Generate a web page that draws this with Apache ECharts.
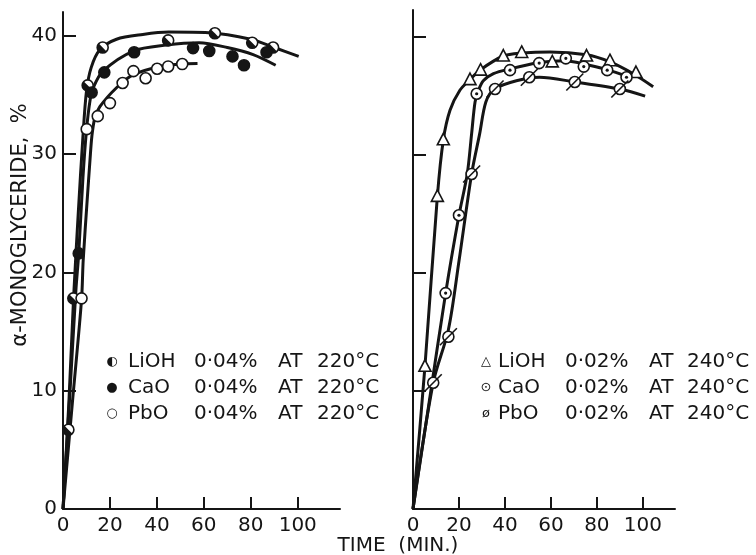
<!DOCTYPE html>
<html>
<head>
<meta charset="utf-8">
<script src="https://cdn.jsdelivr.net/npm/echarts@6/dist/echarts.min.js"></script>
<style>
  html, body { margin: 0; padding: 0; background: #fff; }
  #main { width: 756px; height: 555px; }
</style>
</head>
<body>
<div id="main"></div>
<script>
// tick labels
var xTicks = [0, 20, 40, 60, 80, 100];
var yTicks = [0, 10, 20, 30, 40];

// left panel: 0.04 % at 220 °C  (measured points)
var lioh220Pts = [[2.3, 6.7], [4.4, 17.8], [10.5, 35.8], [16.9, 39.0], [44.8, 39.6], [64.7, 40.2], [80.6, 39.4], [89.5, 39.0]];
var cao220Pts = [[6.7, 21.6], [12.2, 35.2], [17.6, 36.9], [30.3, 38.6], [55.4, 38.95], [62.3, 38.7], [72.2, 38.25], [77.1, 37.5], [86.7, 38.6]];
var pbo220Pts = [[7.9, 17.8], [10.1, 32.1], [14.8, 33.2], [20, 34.3], [25.4, 36.0], [30, 37.0], [35.2, 36.4], [40.1, 37.2], [44.8, 37.4], [50.8, 37.6]];
// left panel fitted curves
var lioh220Curve = [[0, 0], [2.5, 9], [4.5, 17.8], [6.5, 25], [8.5, 31.5], [10, 35.3], [12, 37.3], [15.7, 38.8], [22.8, 39.7], [34, 40.1], [45, 40.3], [62, 40.25], [80, 39.7], [90, 39.0], [100.4, 38.25]];
var cao220Curve = [[0, 0], [3, 10], [5.5, 18.5], [6.7, 21.6], [8.5, 28], [10, 32], [11.5, 34.5], [12.9, 35.6], [17, 37.0], [30, 38.7], [44, 39.2], [58, 39.4], [70, 39.0], [81, 38.4], [90.6, 37.5]];
var pbo220Curve = [[0, 0], [4, 9], [7.9, 17.7], [8.6, 21], [10.3, 26.1], [11.5, 29.5], [12.3, 31.5], [13.5, 33], [15.7, 34.0], [22.8, 35.6], [29.9, 36.7], [41.3, 37.4], [50, 37.6], [57.3, 37.65]];

// right panel: 0.02 % at 240 °C  (measured points)
var lioh240Pts = [[5.2, 12.1], [10.6, 26.5], [13.2, 31.3], [24.8, 36.4], [29.4, 37.2], [39.3, 38.4], [47.3, 38.7], [60.6, 37.9], [75.5, 38.4], [85.7, 38.0], [97, 37.0]];
var cao240Pts = [[14.2, 18.3], [20, 24.9], [27.7, 35.2], [42.2, 37.2], [54.9, 37.8], [66.5, 38.2], [74.3, 37.5], [84.5, 37.2], [92.9, 36.6]];
var pbo240Pts = [[8.8, 10.7], [15.4, 14.6], [25.5, 28.4], [35.7, 35.6], [50.6, 36.6], [70.4, 36.2], [90, 35.6]];
// right panel fitted curves
var lioh240Curve = [[0, 0], [5.2, 12.1], [10.6, 26.5], [13.2, 31.3], [16.1, 33.8], [20.4, 35.5], [24.8, 36.4], [29.1, 37.2], [39.3, 38.4], [47.3, 38.65], [59.6, 38.75], [75.5, 38.5], [85.7, 37.9], [95.8, 36.9], [104.5, 35.8]];
var cao240Curve = [[0, 0], [7, 9], [14.2, 18.3], [20, 24.9], [23.6, 28.4], [25.5, 31.8], [27, 34.5], [28.5, 35.5], [30.6, 36.3], [35, 36.9], [42, 37.3], [55, 37.85], [66, 38.0], [75, 37.7], [85, 37.2], [93, 36.7]];
var pbo240Curve = [[0, 0], [8.8, 10.7], [15.4, 15.2], [20, 21], [25.5, 28.4], [29, 31.8], [31.7, 34.5], [35.5, 35.6], [45, 36.3], [55, 36.6], [70.4, 36.2], [90, 35.6], [101, 35.0]];

// legend rows
var legendLeft = [['◐', 'LiOH', '0·04%', 'AT', '220°C'], ['●', 'CaO', '0·04%', 'AT', '220°C'], ['○', 'PbO', '0·04%', 'AT', '220°C']];
var legendRight = [['△', 'LiOH', '0·02%', 'AT', '240°C'], ['⊙', 'CaO', '0·02%', 'AT', '240°C'], ['ø', 'PbO', '0·02%', 'AT', '240°C']];

var INK = '#151515';
var FONT = 'DejaVu Sans';

function markerItem(kind) {
  return function (params, api) {
    var p = api.coord([api.value(0), api.value(1)]);
    var r = 5.5;
    var kids = [];
    if (kind === 'tri') {
      kids.push({ type: 'polygon', shape: { points: [[p[0], p[1] - r - 1], [p[0] + r + 0.5, p[1] + r - 0.5], [p[0] - r - 0.5, p[1] + r - 0.5]] },
        style: { stroke: INK, lineWidth: 1.6, fill: '#fff' } });
    } else {
      kids.push({ type: 'circle', shape: { cx: p[0], cy: p[1], r: r },
        style: { stroke: INK, lineWidth: 1.6, fill: kind === 'filled' ? INK : '#fff' } });
      if (kind === 'half') {
        kids.push({ type: 'sector', shape: { cx: p[0], cy: p[1], r: r, r0: 0, startAngle: Math.PI * 0.25, endAngle: Math.PI * 1.25 }, style: { fill: INK } });
      }
      if (kind === 'dot') {
        kids.push({ type: 'circle', shape: { cx: p[0], cy: p[1], r: 1.6 }, style: { fill: INK } });
      }
      if (kind === 'slash') {
        kids.push({ type: 'line', shape: { x1: p[0] - r - 3, y1: p[1] + r + 3, x2: p[0] + r + 3, y2: p[1] - r - 3 }, style: { stroke: INK, lineWidth: 1.6 } });
      }
    }
    return { type: 'group', children: kids };
  };
}

function curve(data, idx) {
  return { type: 'line', data: data, xAxisIndex: idx, yAxisIndex: idx, showSymbol: false, symbol: 'none',
    smooth: 0.3, lineStyle: { color: INK, width: 3 }, z: 2, silent: true };
}
function points(data, idx, kind) {
  return { type: 'custom', data: data, xAxisIndex: idx, yAxisIndex: idx, renderItem: markerItem(kind),
    encode: { x: 0, y: 1 }, z: 3, silent: true };
}

function xAxisOf(idx, max) {
  return {
    gridIndex: idx, type: 'value', min: 0, max: max,
    axisLine: { show: true, onZero: false, lineStyle: { color: INK, width: 2 } },
    axisTick: { show: true, inside: true, length: 12, customValues: [20, 40, 60, 80, 100], lineStyle: { color: INK, width: 2 } },
    axisLabel: { customValues: xTicks, color: INK, fontSize: 20, fontFamily: FONT, margin: 7 },
    splitLine: { show: false }
  };
}
function yAxisOf(idx, max, labels) {
  return {
    gridIndex: idx, type: 'value', min: 0, max: max,
    axisLine: { show: true, onZero: false, lineStyle: { color: INK, width: 2 } },
    axisTick: { show: true, inside: true, length: 13, customValues: [10, 20, 30, 40], lineStyle: { color: INK, width: 2 } },
    axisLabel: { show: labels, customValues: yTicks, color: INK, fontSize: 20, fontFamily: FONT, margin: 6 },
    splitLine: { show: false }
  };
}

function legendText(rows, cols) {
  var rowY = [362, 388, 414];
  var out = [];
  rows.forEach(function (row, i) {
    row.forEach(function (txt, j) {
      out.push({ type: 'text', x: cols[j], y: rowY[i],
        style: { text: txt, fill: INK, font: (j === 0 ? '13px ' : '20px ') + FONT,
          align: j === 0 ? 'center' : 'left', verticalAlign: 'middle' } });
    });
  });
  return out;
}

var graphics = [].concat(
  legendText(legendLeft, [112, 128, 194, 278, 317]),
  legendText(legendRight, [486, 498, 565, 649, 687]),
  [
    { type: 'text', x: 21, y: 225, rotation: Math.PI / 2,
      style: { text: 'α-MONOGLYCERIDE,  %', fill: INK, font: '21px ' + FONT, align: 'center', verticalAlign: 'middle' } },
    { type: 'text', x: 398, y: 546,
      style: { text: 'TIME  (MIN.)', fill: INK, font: '20px ' + FONT, align: 'center', verticalAlign: 'middle' } }
  ]
);

var chart = echarts.init(document.getElementById('main'));
chart.setOption({
  animation: false,
  backgroundColor: '#fff',
  grid: [
    { left: 63, top: 12, width: 277, height: 497 },
    { left: 413, top: 10, width: 262, height: 499 }
  ],
  xAxis: [xAxisOf(0, 118), xAxisOf(1, 114)],
  yAxis: [yAxisOf(0, 42, true), yAxisOf(1, 42.3, false)],
  graphic: graphics,
  series: [
    curve(lioh220Curve, 0), curve(cao220Curve, 0), curve(pbo220Curve, 0),
    points(lioh220Pts, 0, 'half'), points(cao220Pts, 0, 'filled'), points(pbo220Pts, 0, 'open'),
    curve(lioh240Curve, 1), curve(cao240Curve, 1), curve(pbo240Curve, 1),
    points(lioh240Pts, 1, 'tri'), points(cao240Pts, 1, 'dot'), points(pbo240Pts, 1, 'slash')
  ]
});
</script>
</body>
</html>
